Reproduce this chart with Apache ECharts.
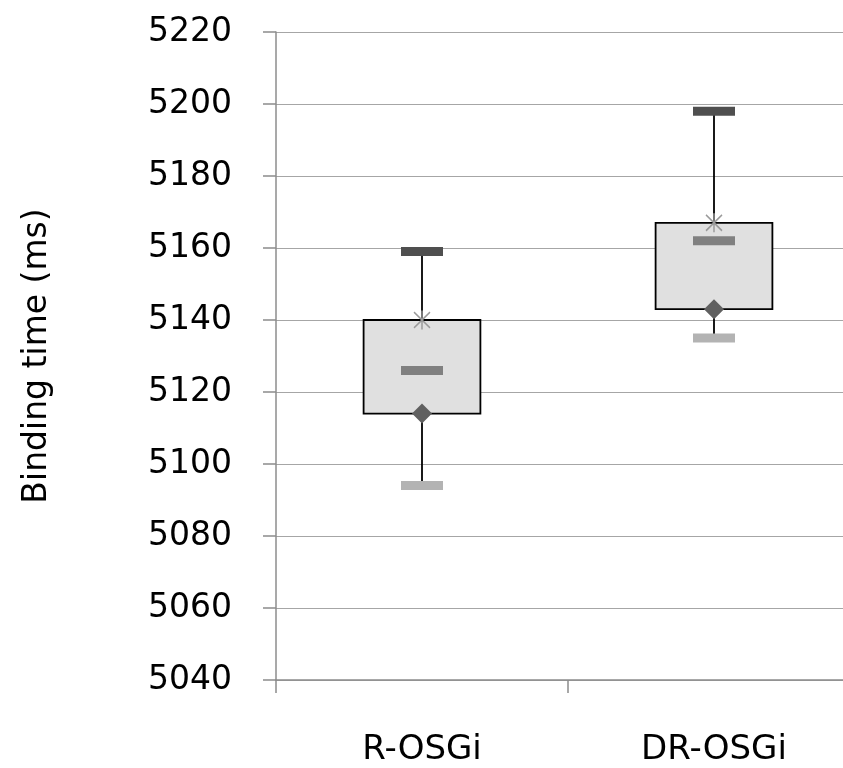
<!DOCTYPE html>
<html>
<head>
<meta charset="utf-8">
<script src="https://cdn.jsdelivr.net/npm/echarts@6/dist/echarts.min.js"></script>
<style>html,body{margin:0;padding:0;background:#fff}#c{width:843px;height:768px}</style>
</head>
<body>
<div id="c"></div>
<script>
var categories = ['R-OSGi', 'DR-OSGi'];
var minVals = [5094, 5135];
var q1Vals = [5114, 5143];
var medianVals = [5126, 5162];
var q3Vals = [5140, 5167];
var maxVals = [5159, 5198];
var yTicks = { min: 5040, max: 5220, interval: 20 };
var yTitle = 'Binding time (ms)';

var chart = echarts.init(document.getElementById('c'));
var boxData = categories.map(function (c, i) {
  return [i, minVals[i], q1Vals[i], q3Vals[i], maxVals[i]];
});
var asterisk = 'path://M0,0L2,2M2,0L0,2M1,-0.2L1,2.2';
var option = {
  animation: false,
  grid: { left: 276, top: 32, width: 584, height: 648, containLabel: false, outerBoundsMode: 'none' },
  xAxis: {
    type: 'category',
    data: categories,
    boundaryGap: true,
    axisLine: { show: true, lineStyle: { color: '#8c8c8c', width: 1.5 } },
    axisTick: { show: true, length: 13, alignWithLabel: false, lineStyle: { color: '#8c8c8c', width: 1.5 } },
    axisLabel: { color: '#000', fontFamily: 'DejaVu Sans', fontSize: 34, margin: 53 },
    splitLine: { show: false }
  },
  yAxis: {
    type: 'value',
    min: yTicks.min, max: yTicks.max, interval: yTicks.interval,
    name: yTitle,
    nameLocation: 'middle',
    nameRotate: 90,
    nameGap: 222,
    nameTextStyle: { color: '#000', fontFamily: 'DejaVu Sans', fontSize: 33 },
    axisLine: { show: true, lineStyle: { color: '#8c8c8c', width: 1.5 } },
    axisTick: { show: true, length: 13, lineStyle: { color: '#8c8c8c', width: 1.5 } },
    axisLabel: { color: '#000', fontFamily: 'DejaVu Sans', fontSize: 33, margin: 44,
      formatter: function (v) { return String(v); } },
    splitLine: { show: true, lineStyle: { color: '#a6a6a6', width: 1.2 } }
  },
  series: [
    {
      type: 'custom',
      z: 2,
      data: boxData,
      encode: { x: 0, y: [1, 2, 3, 4] },
      renderItem: function (params, api) {
        var x = api.value(0);
        var pMin = api.coord([x, api.value(1)]);
        var pQ1 = api.coord([x, api.value(2)]);
        var pQ3 = api.coord([x, api.value(3)]);
        var pMax = api.coord([x, api.value(4)]);
        var bw = api.size([1, 0])[0] * 0.4;
        return {
          type: 'group',
          children: [
            { type: 'line', shape: { x1: pMin[0], y1: pMin[1], x2: pMax[0], y2: pMax[1] },
              style: { stroke: '#000', lineWidth: 1.8 } },
            { type: 'rect', shape: { x: pQ3[0] - bw / 2, y: pQ3[1], width: bw, height: pQ1[1] - pQ3[1] },
              style: { fill: '#e0e0e0', stroke: '#000', lineWidth: 1.8 } }
          ]
        };
      }
    },
    { type: 'scatter', z: 5, data: maxVals, symbol: 'rect', symbolSize: [42, 9], itemStyle: { color: '#4f4f4f', opacity: 1 } },
    { type: 'scatter', z: 5, data: medianVals, symbol: 'rect', symbolSize: [42, 9], itemStyle: { color: '#808080', opacity: 1 } },
    { type: 'scatter', z: 5, data: minVals, symbol: 'rect', symbolSize: [42, 9], itemStyle: { color: '#b3b3b3', opacity: 1 } },
    { type: 'scatter', z: 6, data: q1Vals, symbol: 'diamond', symbolSize: [20, 20], itemStyle: { color: '#606060', opacity: 1 } },
    { type: 'scatter', z: 6, data: q3Vals, symbol: asterisk, symbolSize: [16, 19],
      itemStyle: { color: 'rgba(0,0,0,0)', borderColor: '#9a9a9a', borderWidth: 1.6, opacity: 1 } }
  ]
};
chart.setOption(option);
</script>
</body>
</html>
